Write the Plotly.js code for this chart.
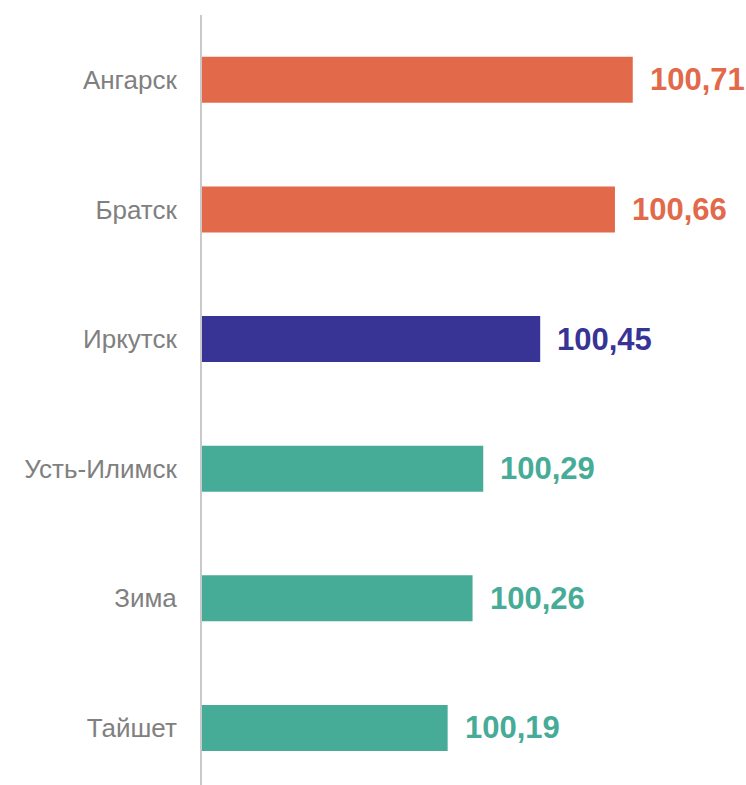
<!DOCTYPE html>
<html>
<head>
<meta charset="utf-8">
<script src="https://cdn.plot.ly/plotly-3.0.1.min.js"></script>
<style>html,body{margin:0;padding:0;background:#fff;}#chart{width:746px;height:785px;}</style>
</head>
<body>
<div id="chart"></div>
<script>
const cities = ["Ангарск", "Братск", "Иркутск", "Усть-Илимск", "Зима", "Тайшет"];
const values = [100.71, 100.66, 100.45, 100.29, 100.26, 100.19];
const valueLabels = ["100,71", "100,66", "100,45", "100,29", "100,26", "100,19"];
const barColors = ["#E2694A", "#E2694A", "#373496", "#46AB97", "#46AB97", "#46AB97"];
const axisBase = 99.5;

const trace = {
  type: "bar",
  orientation: "h",
  y: cities,
  x: values.map(v => v - axisBase),
  base: axisBase,
  marker: {color: barColors},
  width: 0.355,
  hoverinfo: "none"
};

const annotations = values.map((v, i) => ({
  x: v, y: cities[i], xref: "x", yref: "y",
  text: "<b>" + valueLabels[i] + "</b>",
  showarrow: false, xanchor: "left", xshift: 15, yshift: 0,
  font: {family: "Liberation Sans, Arial, sans-serif", size: 31, color: barColors[i]}
}));

const layout = {
  width: 746, height: 785,
  margin: {l: 202, r: 10, t: 15, b: 0},
  paper_bgcolor: "#fff", plot_bgcolor: "#fff",
  showlegend: false,
  xaxis: {range: [99.5, 101.0], showgrid: false, zeroline: false, showticklabels: false, showline: false, fixedrange: true},
  yaxis: {range: [5.44, -0.5], showgrid: false, zeroline: false, showline: true, linecolor: "#c9c9c9", linewidth: 2,
          ticks: "", ticklabelstandoff: 18,
          tickfont: {family: "Liberation Sans, Arial, sans-serif", size: 26, color: "#808080"}},
  annotations: annotations,
  font: {family: "Liberation Sans, Arial, sans-serif"}
};
Plotly.newPlot("chart", [trace], layout, {displayModeBar: false, staticPlot: true});
</script>
</body>
</html>
